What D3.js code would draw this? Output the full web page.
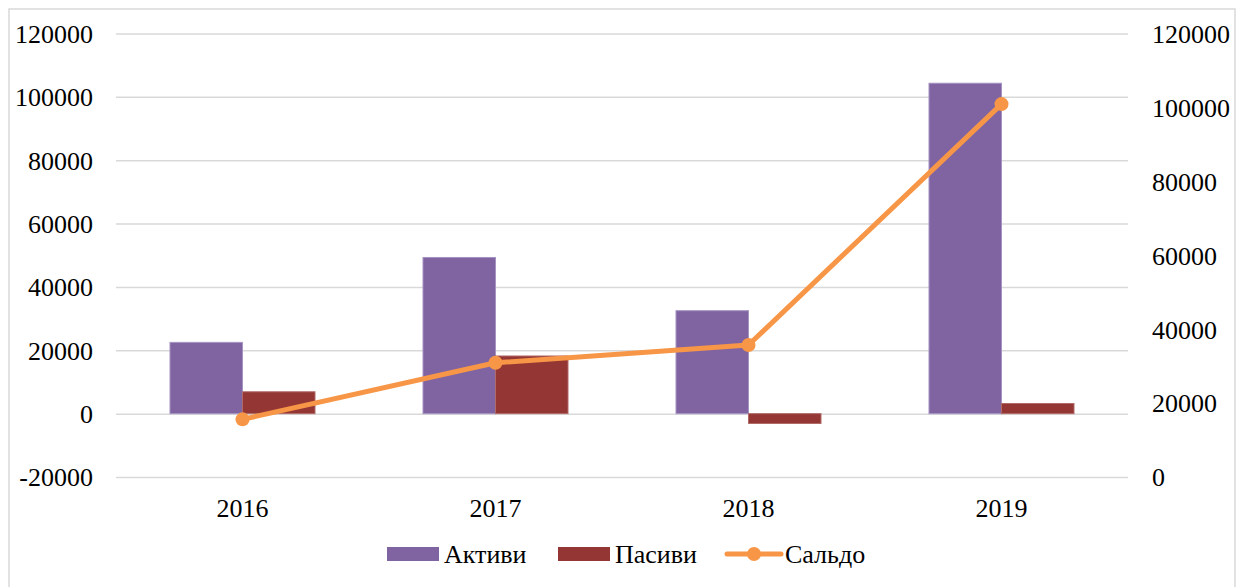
<!DOCTYPE html>
<html lang="uk">
<head>
<meta charset="UTF-8">
<title>Активи, Пасиви, Сальдо</title>
<script src="https://d3js.org/d3.v7.min.js"></script>
<style>
    body { margin: 0; background: #ffffff; }
    svg text { font-family: "Liberation Serif", "Times New Roman", serif; fill: #000; }
    .tick text { font-size: 26px; }
    .grid line { stroke: #d9d9d9; stroke-width: 1.5; }
    .grid .domain { display: none; }
    .legend text { font-size: 26px; }
</style>
</head>
<body>
<svg width="1245" height="587"></svg>
<script>
    // data
    const years = ["2016", "2017", "2018", "2019"];
    const aktyvy = [22500, 49300, 32500, 104300];
    const pasyvy = [6900, 18200, -3100, 3200];
    const saldo = [15600, 30900, 35700, 100900];
    const leftTicks = [-20000, 0, 20000, 40000, 60000, 80000, 100000, 120000];
    const rightTicks = [0, 20000, 40000, 60000, 80000, 100000, 120000];

    const colors = {a: "#8064a2", p: "#943634", s: "#f79646"};

    const svg = d3.select("svg");

    // chart frame
    svg.append("rect")
       .attr("x", 9).attr("y", 9)
       .attr("width", 1226).attr("height", 590)
       .attr("fill", "#fff")
       .attr("stroke", "#d9d9d9")
       .attr("stroke-width", 1.5);

    const plot = {left: 116, right: 1128, top: 33.5, bottom: 477};

    const x = d3.scaleBand()
                .domain(years)
                .range([plot.left, plot.right]);

    const xs = d3.scaleBand()
                 .domain(["a", "p"])
                 .range([0, x.bandwidth()])
                 .paddingOuter(0.745);

    const y = d3.scaleLinear()
                .domain([-20000, 120000])
                .range([plot.bottom, plot.top]);

    const y2 = d3.scaleLinear()
                 .domain([0, 120000])
                 .range([plot.bottom, plot.top]);

    const fmt = d => String(d); // plain hyphen for negatives, like the original

    // grid lines
    svg.append("g")
       .attr("class", "grid")
       .attr("transform", `translate(${plot.left},0)`)
       .call(d3.axisLeft(y)
               .tickValues(leftTicks)
               .tickSize(-(plot.right - plot.left))
               .tickFormat(""));

    // left axis labels
    const yAxis = svg.append("g")
       .attr("transform", `translate(93,0)`)
       .call(d3.axisLeft(y).tickValues(leftTicks).tickSize(0).tickPadding(0).tickFormat(fmt));
    yAxis.select(".domain").remove();
    yAxis.selectAll("text").attr("dy", "0.34em");

    // right axis labels
    const y2Axis = svg.append("g")
       .attr("transform", `translate(1152,0)`)
       .call(d3.axisRight(y2).tickValues(rightTicks).tickSize(0).tickPadding(0).tickFormat(fmt));
    y2Axis.select(".domain").remove();
    y2Axis.selectAll("text").attr("dy", "0.34em");

    // category labels
    const xAxis = svg.append("g")
       .attr("transform", `translate(0,${plot.bottom})`)
       .call(d3.axisBottom(x).tickSize(0).tickPadding(22));
    xAxis.select(".domain").remove();

    // bars
    const barData = [];
    years.forEach((yr, i) => {
        barData.push({year: yr, key: "a", value: aktyvy[i]});
        barData.push({year: yr, key: "p", value: pasyvy[i]});
    });

    svg.append("g")
       .selectAll("rect")
       .data(barData)
       .enter()
       .append("rect")
       .attr("x", d => x(d.year) + xs(d.key))
       .attr("y", d => y(Math.max(0, d.value)))
       .attr("width", xs.bandwidth())
       .attr("height", d => Math.abs(y(d.value) - y(0)))
       .attr("fill", d => colors[d.key])
       .attr("stroke", d => d.key === "a" ? "#a593c2" : "#b06a68")
       .attr("stroke-width", 1);

    // saldo line on the right axis
    const cx = yr => x(yr) + x.bandwidth() / 2;
    const line = d3.line()
                   .x((d, i) => cx(years[i]))
                   .y(d => y2(d));

    svg.append("path")
       .datum(saldo)
       .attr("d", line)
       .attr("fill", "none")
       .attr("stroke", colors.s)
       .attr("stroke-width", 5)
       .attr("stroke-linecap", "round")
       .attr("stroke-linejoin", "round");

    svg.append("g")
       .selectAll("circle")
       .data(saldo)
       .enter()
       .append("circle")
       .attr("cx", (d, i) => cx(years[i]))
       .attr("cy", d => y2(d))
       .attr("r", 7)
       .attr("fill", colors.s);

    // legend
    const legend = svg.append("g").attr("class", "legend");
    const ly = 554;

    legend.append("rect").attr("x", 387).attr("y", ly - 7).attr("width", 52).attr("height", 14).attr("fill", colors.a);
    legend.append("text").attr("x", 444).attr("y", ly).attr("dy", "0.34em").text("Активи");

    legend.append("rect").attr("x", 558).attr("y", ly - 7).attr("width", 52).attr("height", 14).attr("fill", colors.p);
    legend.append("text").attr("x", 615).attr("y", ly).attr("dy", "0.34em").text("Пасиви");

    legend.append("line").attr("x1", 727).attr("x2", 781).attr("y1", ly).attr("y2", ly)
          .attr("stroke", colors.s).attr("stroke-width", 5).attr("stroke-linecap", "round");
    legend.append("circle").attr("cx", 754).attr("cy", ly).attr("r", 7).attr("fill", colors.s);
    legend.append("text").attr("x", 785).attr("y", ly).attr("dy", "0.34em").text("Сальдо");
</script>
</body>
</html>
